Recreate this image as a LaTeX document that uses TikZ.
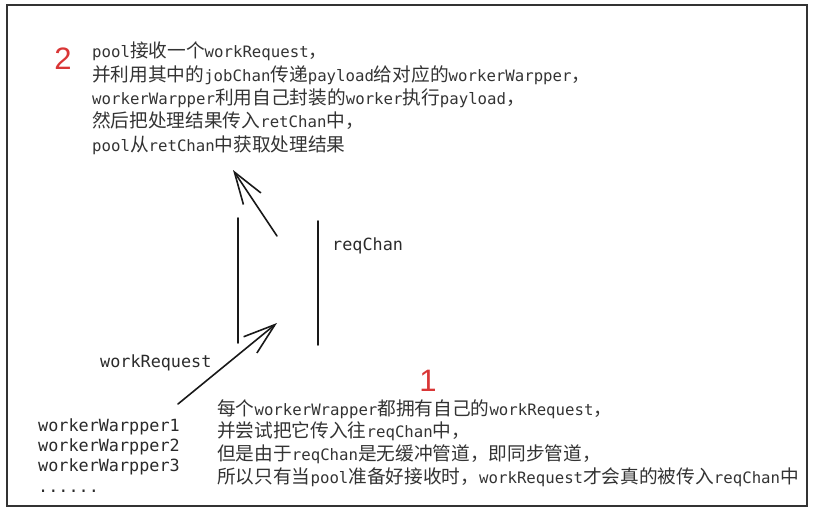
\documentclass[tikz,border=0pt]{standalone}
\usepackage{fontspec}
\setmainfont{Liberation Sans}
\setmonofont{DejaVu Sans Mono}
\newfontfamily\cjkfont[Scale=1.19]{Noto Sans CJK SC}
\usetikzlibrary{arrows.meta}
\newcommand\Z[1]{{\cjkfont #1}}
\definecolor{txt}{HTML}{333333}
\definecolor{lbltxt}{HTML}{2A2A2A}
\definecolor{redmark}{HTML}{D93636}
\begin{document}
\begin{tikzpicture}[x=1pt,y=-1pt,
  body/.style={anchor=base west, inner sep=0pt, font=\ttfamily\fontsize{15.7}{18}\selectfont, text=txt},
  lbl/.style={anchor=base west, inner sep=0pt, font=\ttfamily\fontsize{16.8}{20}\selectfont, text=lbltxt},
  num/.style={anchor=base, inner sep=0pt, font=\fontsize{31}{34}\selectfont, text=redmark},
  stroke/.style={line width=1.6pt, black!90, line cap=round, line join=round},
  arrowed/.style={stroke, -{Straight Barb[length=32pt,width=21pt]}}]
\useasboundingbox (0,0) rectangle (815,511);
\draw[line width=1.6pt, black!80] (7,5) rectangle (807,506);

% step 2
\node[num] (n2) at (63,70) {2};
\node[body] (t1) at (92,58)  {pool\Z{接收一个}workRequest\Z{，}};
\node[body] (t2) at (92,82)  {\Z{并利用其中的}jobChan\Z{传递}payload\Z{给对应的}workerWarpper\Z{，}};
\node[body] (t3) at (92,105) {workerWarpper\Z{利用自己封装的}worker\Z{执行}payload\Z{，}};
\node[body] (t4) at (92,128) {\Z{然后把处理结果传入}retChan\Z{中，}};
\node[body] (t5) at (92,152) {pool\Z{从}retChan\Z{中获取处理结果}};

% channel
\coordinate (cl1) at (238,218);
\coordinate (cl2) at (238,343);
\coordinate (cr1) at (318,221);
\coordinate (cr2) at (318,345);
\draw[stroke] (cl1) -- (cl2);
\draw[stroke] (cr1) -- (cr2);
\node[lbl] (req) at (332,250) {reqChan};

% arrows
\coordinate (upS) at (277,236);
\coordinate (upE) at (233,170);
\draw[arrowed] (upS) -- (upE);
\coordinate (inS) at (178,404);
\coordinate (inE) at (277,323);
\draw[arrowed] (inS) -- (inE);
\node[lbl] (wr) at (100,367) {workRequest};

% workers
\node[lbl] (w1) at (38,431) {workerWarpper1};
\node[lbl] (w2) at (38,451) {workerWarpper2};
\node[lbl] (w3) at (38,471) {workerWarpper3};
\node[lbl] (w4) at (38,492) {......};

% step 1
\node[num] (n1) at (428,391) {1};
\node[body] (b1) at (217,415) {\Z{每个}workerWrapper\Z{都拥有自己的}workRequest\Z{，}};
\node[body] (b2) at (217,437) {\Z{并尝试把它传入往}reqChan\Z{中，}};
\node[body] (b3) at (217,460) {\Z{但是由于}reqChan\Z{是无缓冲管道，即同步管道，}};
\node[body] (b4) at (217,483) {\Z{所以只有当}pool\Z{准备好接收时，}workRequest\Z{才会真的被传入}reqChan\Z{中}};
\end{tikzpicture}
\end{document}
